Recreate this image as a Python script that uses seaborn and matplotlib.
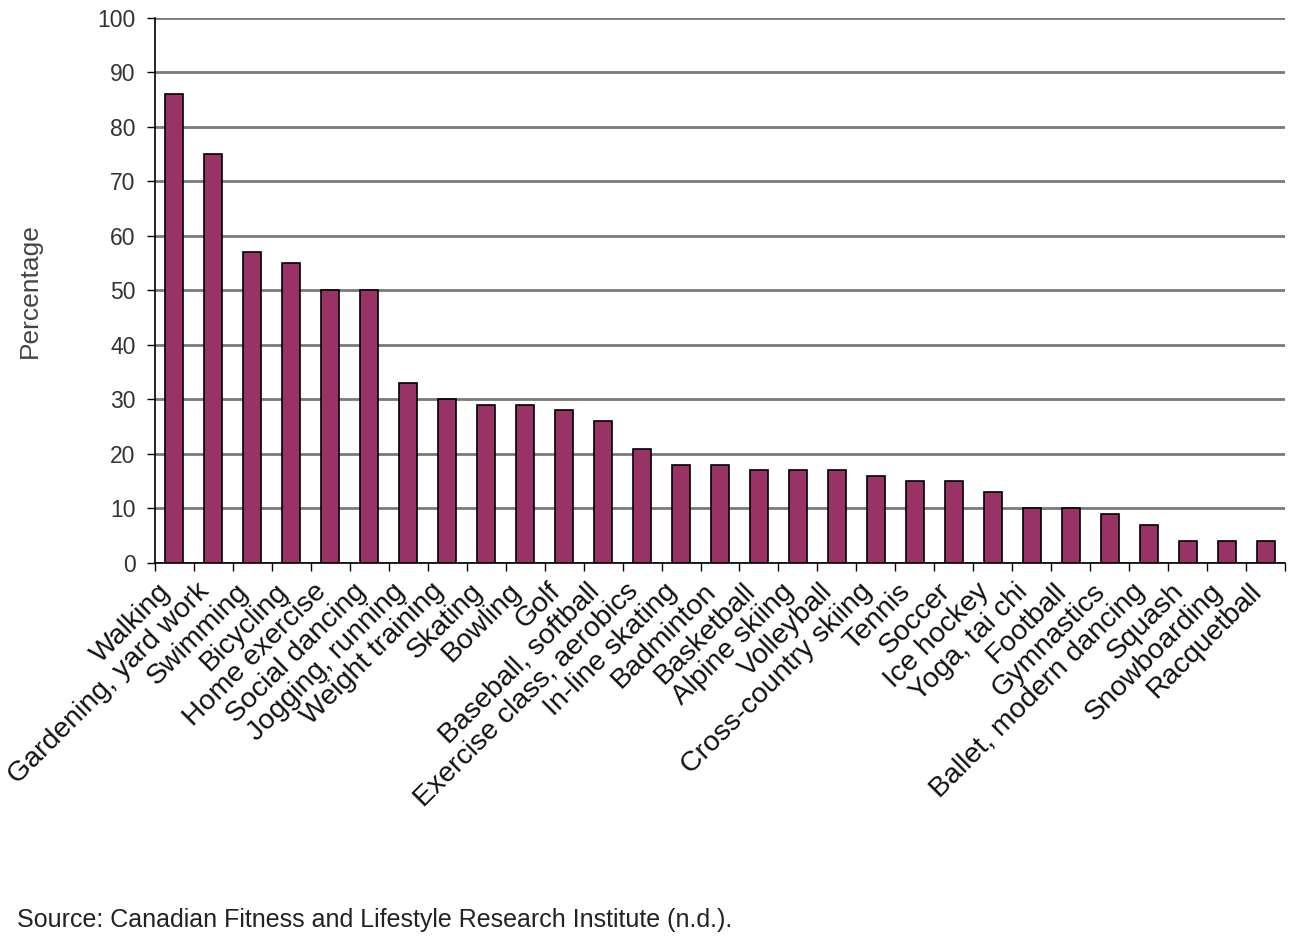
import matplotlib
matplotlib.use("Agg")
import matplotlib.pyplot as plt
import matplotlib.transforms as mtransforms
import numpy as np
import pandas as pd
import seaborn as sns

categories = ["Walking", "Gardening, yard work", "Swimming", "Bicycling", "Home exercise",
              "Social dancing", "Jogging, running", "Weight training", "Skating", "Bowling",
              "Golf", "Baseball, softball", "Exercise class, aerobics", "In-line skating",
              "Badminton", "Basketball", "Alpine skiing", "Volleyball", "Cross-country skiing",
              "Tennis", "Soccer", "Ice hockey", "Yoga, tai chi", "Football", "Gymnastics",
              "Ballet, modern dancing", "Squash", "Snowboarding", "Racquetball"]
values = [86, 75, 57, 55, 50, 50, 33, 30, 29, 29, 28, 26, 21, 18, 18, 17, 17, 17, 16,
          15, 15, 13, 10, 10, 9, 7, 4, 4, 4]
y_ticks = [0, 10, 20, 30, 40, 50, 60, 70, 80, 90, 100]

sns.set_theme(style="white")
plt.rcParams['font.family'] = ['Liberation Sans', 'DejaVu Sans']

df = pd.DataFrame({"Activity": categories, "Percentage": values})

fig = plt.figure(figsize=(13.02, 9.44), dpi=100)
ax = fig.add_axes([0.119, 0.4036, 0.868, 0.5774])

sns.barplot(data=df, x="Activity", y="Percentage", color="#993366", saturation=1,
            width=0.46, edgecolor="black", linewidth=1.2, ax=ax, zorder=3)

ax.set_ylim(0, 100)
ax.set_xlim(-0.5, len(categories) - 0.5)
ax.set_yticks(y_ticks)
ax.set_yticklabels([str(t) for t in y_ticks], fontsize=16.5, color="#333333")
ax.yaxis.grid(True, color="#7a7a7a", linewidth=2, zorder=0)
ax.set_axisbelow(True)

ax.set_xticks(range(len(categories)))
ax.set_xticklabels(categories, rotation=45, ha="right", rotation_mode="anchor",
                   fontsize=20.5, color="#111111")
ax.tick_params(axis="x", which="major", length=0, pad=11)
offset = mtransforms.ScaledTranslation(-0.17, 0.0, fig.dpi_scale_trans)
for lbl in ax.get_xticklabels():
    lbl.set_transform(lbl.get_transform() + offset)
ax.set_xticks(np.arange(-0.5, len(categories), 1.0), minor=True)
ax.tick_params(axis="x", which="minor", length=6, width=1, color="black", direction="out", bottom=True)
ax.tick_params(axis="y", which="major", length=6, width=1, color="black", direction="out", left=True, pad=8)

ax.set_xlabel("")
ax.set_ylabel("Percentage", fontsize=19, color="#444444", labelpad=40)

for side in ["top", "right"]:
    ax.spines[side].set_visible(False)
for side in ["left", "bottom"]:
    ax.spines[side].set_color("black")
    ax.spines[side].set_linewidth(1.2)

fig.text(0.013, 0.013, "Source: Canadian Fitness and Lifestyle Research Institute (n.d.).",
         fontsize=18, color="#222222", ha="left", va="bottom")

fig.savefig("out.png", dpi=100)
